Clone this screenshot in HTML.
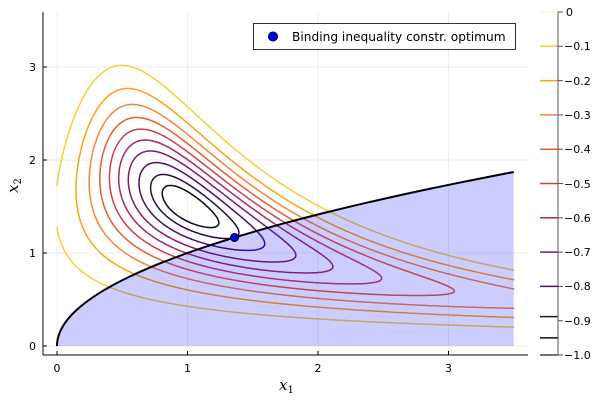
<!DOCTYPE html>
<html><head><meta charset="utf-8"><style>
body{margin:0;background:#fff}
svg{display:block;font-family:"DejaVu Sans","Liberation Sans",sans-serif}
</style></head><body>
<svg id="s" width="600" height="400" xmlns="http://www.w3.org/2000/svg">
<rect width="600" height="400" fill="#fff"/>
<g stroke="#e8e8e8" stroke-width="0.7">
<line x1="57" y1="12" x2="57" y2="355"/><line x1="187.5" y1="12" x2="187.5" y2="355"/><line x1="318" y1="12" x2="318" y2="355"/><line x1="448.5" y1="12" x2="448.5" y2="355"/>
<line x1="43" y1="346" x2="528" y2="346"/><line x1="43" y1="253" x2="528" y2="253"/><line x1="43" y1="160" x2="528" y2="160"/><line x1="43" y1="67" x2="528" y2="67"/>
</g>
<g id="cont" fill="none" stroke-width="1.5" stroke-linecap="round"></g>
<path id="fillp" fill="rgba(0,0,255,0.2)" stroke="none"/>
<path id="cons" fill="none" stroke="#000" stroke-width="2"/>
<circle cx="234.5" cy="237.5" r="4" fill="#0000ff" stroke="#000" stroke-width="1"/>
<g stroke="#000" stroke-width="1">
<line x1="43" y1="12" x2="43" y2="355"/><line x1="43" y1="355" x2="528" y2="355"/>
<line x1="57" y1="355" x2="57" y2="351"/><line x1="187.5" y1="355" x2="187.5" y2="351"/><line x1="318" y1="355" x2="318" y2="351"/><line x1="448.5" y1="355" x2="448.5" y2="351"/>
<line x1="43" y1="346" x2="47" y2="346"/><line x1="43" y1="253" x2="47" y2="253"/><line x1="43" y1="160" x2="47" y2="160"/><line x1="43" y1="67" x2="47" y2="67"/>
</g>
<g font-size="11" fill="#000" text-anchor="middle">
<text x="57" y="372">0</text><text x="187.5" y="372">1</text><text x="318" y="372">2</text><text x="448.5" y="372">3</text>
</g>
<g font-size="11" fill="#000" text-anchor="end">
<text x="36" y="350">0</text><text x="36" y="257">1</text><text x="36" y="164">2</text><text x="36" y="71">3</text>
</g>
<text x="279" y="390" font-family="DejaVu Serif,Liberation Serif,serif" font-style="italic" font-size="15">x<tspan font-size="10" dy="3" font-style="normal">1</tspan></text>
<text transform="translate(18,193) rotate(-90)" font-family="DejaVu Serif,Liberation Serif,serif" font-style="italic" font-size="15">x<tspan font-size="10" dy="3" font-style="normal">2</tspan></text>
<rect x="253.5" y="23.5" width="262" height="26" fill="#fff" stroke="#000" stroke-width="0.8"/>
<circle cx="273" cy="36.5" r="4.5" fill="#0000ff" stroke="#000" stroke-width="1"/>
<text x="292" y="41" font-size="12.2">Binding inequality constr. optimum</text>
<g id="cbar"></g>
<line x1="558" y1="12" x2="558" y2="355" stroke="#555" stroke-width="1"/>
</svg>
<script>
var NS="http://www.w3.org/2000/svg";
function X(a){return 57+130.5*a}function Y(b){return 346-93*b}
function f(a,b){var u=a*b-1.5,v=b-1.5;return -Math.exp(-u*u-v*v)}
var levels=[-0.1,-0.2,-0.3,-0.4,-0.5,-0.6,-0.7,-0.8,-0.888,-0.95];
var cols=["#f6cf3a","#fba30f","#f4863a","#e35d32","#c9414f","#a12a63","#7c1c6d","#4d0d6b","#2a0b4a","#0d0820"];
var N=280,L=3.5,h=L/N,g=[];
for(var i=0;i<=N;i++){g[i]=[];for(var j=0;j<=N;j++)g[i][j]=f(i*h,j*h);}
var cont=document.getElementById("cont");
levels.forEach(function(lv,k){
 var d="";
 for(var i=0;i<N;i++)for(var j=0;j<N;j++){
  var p=[[i,j],[i+1,j],[i+1,j+1],[i,j+1]],pts=[];
  for(var e=0;e<4;e++){var A=p[e],B=p[(e+1)%4],va=g[A[0]][A[1]],vb=g[B[0]][B[1]];
   if((va-lv)*(vb-lv)<0){var t=(lv-va)/(vb-va);pts.push([(A[0]+t*(B[0]-A[0]))*h,(A[1]+t*(B[1]-A[1]))*h]);}}
  for(var q=0;q+1<pts.length;q+=2)d+="M"+X(pts[q][0]).toFixed(1)+" "+Y(pts[q][1]).toFixed(1)+"L"+X(pts[q+1][0]).toFixed(1)+" "+Y(pts[q+1][1]).toFixed(1);
 }
 var pa=document.createElementNS(NS,"path");pa.setAttribute("d",d);pa.setAttribute("stroke",cols[k]);cont.appendChild(pa);
});
var c="",fl="M"+X(0)+" "+Y(0);
for(var i=0;i<=200;i++){var a=3.5*Math.pow(i/200,2);c+=(i?"L":"M")+X(a).toFixed(2)+" "+Y(Math.sqrt(a)).toFixed(2);fl+="L"+X(a).toFixed(2)+" "+Y(Math.sqrt(a)).toFixed(2);}
fl+="L"+X(3.5)+" "+Y(0)+"Z";
document.getElementById("cons").setAttribute("d",c);
document.getElementById("fillp").setAttribute("d",fl);
var cb=document.getElementById("cbar");
var bl=[[0,"#fcfdb0"],[-0.1,cols[0]],[-0.2,cols[1]],[-0.3,cols[2]],[-0.4,cols[3]],[-0.5,cols[4]],[-0.6,cols[5]],[-0.7,cols[6]],[-0.8,cols[7]],[-0.888,cols[8]],[-0.95,cols[9]],[-1,"#444"]];
bl.forEach(function(b){var y=12-b[0]*343;var l=document.createElementNS(NS,"line");l.setAttribute("x1",540);l.setAttribute("x2",558);l.setAttribute("y1",y);l.setAttribute("y2",y);l.setAttribute("stroke",b[1]);l.setAttribute("stroke-width",1.5);cb.appendChild(l);});
for(var k=0;k<=10;k++){var y=12+k*34.3;var l=document.createElementNS(NS,"line");l.setAttribute("x1",558);l.setAttribute("x2",563);l.setAttribute("y1",y);l.setAttribute("y2",y);l.setAttribute("stroke","#555");cb.appendChild(l);}
</script>
<svg width="600" height="400" style="position:absolute;left:0;top:0" font-family="DejaVu Sans,Liberation Sans,sans-serif" font-size="11">
<text x="566" y="16">0</text><text x="564" y="50">−0.1</text><text x="564" y="85">−0.2</text><text x="564" y="119">−0.3</text><text x="564" y="153">−0.4</text><text x="564" y="188">−0.5</text><text x="564" y="222">−0.6</text><text x="564" y="256">−0.7</text><text x="564" y="290">−0.8</text><text x="564" y="325">−0.9</text><text x="564" y="359">−1.0</text>
</svg>
</body></html>
